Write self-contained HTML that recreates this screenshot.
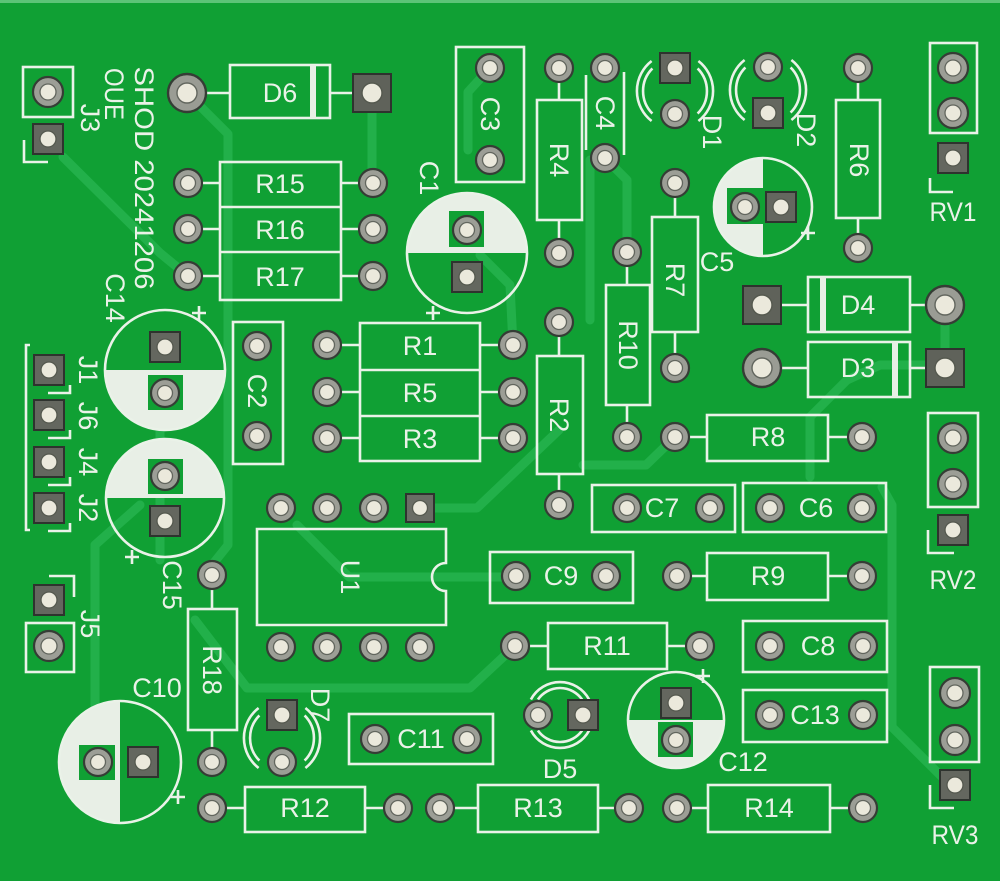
<!DOCTYPE html>
<html><head><meta charset="utf-8"><style>
html,body{margin:0;padding:0;background:#10a034;}
svg{display:block}
.s{fill:none;stroke:#eaf2e8;stroke-width:2.6}
.t{fill:#eaf2e8;font-family:"Liberation Sans",sans-serif;font-size:27px;text-anchor:middle;dominant-baseline:central}
.w{fill:#e8efe6}
.g{fill:#10a034}
.tr{fill:none;stroke:#22b04a;stroke-width:9;stroke-linejoin:round;stroke-linecap:round}
</style></head><body>
<svg width="1000" height="881" viewBox="0 0 1000 881" xmlns="http://www.w3.org/2000/svg">
<defs>
<g id="rp"><circle r="14" fill="#9c9e96" stroke="#353d35" stroke-width="2.2"/><circle r="7.5" fill="#ebe9dc" stroke="#62665e" stroke-width="1.3"/></g>
<g id="rpl"><circle r="15" fill="#9c9e96" stroke="#353d35" stroke-width="2.2"/><circle r="8" fill="#ebe9dc" stroke="#62665e" stroke-width="1.3"/></g>
<g id="rpb"><circle r="19" fill="#9a9c94" stroke="#353d35" stroke-width="2.4"/><circle r="10" fill="#ebe9dc" stroke="#62665e" stroke-width="1.4"/></g>
<g id="sp"><rect x="-15" y="-15" width="30" height="30" fill="#64675f" stroke="#2e332e" stroke-width="2"/><circle r="8" fill="#ebe9dc" stroke="#55594f" stroke-width="1.3"/></g>
<g id="sps"><rect x="-14" y="-14" width="28" height="28" fill="#6a6d65" stroke="#2e332e" stroke-width="2"/><circle r="7.5" fill="#ebe9dc" stroke="#55594f" stroke-width="1.3"/></g>
<g id="spb"><rect x="-19" y="-19" width="38" height="38" fill="#5f625a" stroke="#2e332e" stroke-width="2"/><circle r="10" fill="#ebe9dc" stroke="#55594f" stroke-width="1.4"/></g>
</defs>
<rect x="0" y="0" width="1000" height="881" fill="#10a034"/>
<rect x="0" y="0" width="1000" height="3" fill="#5cc477"/>

<!-- traces -->
<g class="tr">
<path d="M63 157 L160 253 L188 276"/>
<path d="M187 93 L228 134 L228 545 L212 565"/>
<path d="M372 93 L372 183"/>
<path d="M95 545 L95 705"/>
<path d="M95 545 L140 505"/>
<path d="M160 410 L160 560"/>
<path d="M195 620 L247 688 L470 688 L515 646"/>
<path d="M297 525 L349 577 L516 577"/>
<path d="M420 508 L477 508 L559 430"/>
<path d="M590 160 L590 320"/>
<path d="M605 158 L627 180 L627 252"/>
<path d="M490 68 L468 92 L468 150"/>
<path d="M480 255 L510 285 L513 345"/>
<path d="M810 417 L810 477"/>
<path d="M810 417 L847 380 L880 365 L945 365"/>
<path d="M882 487 L892 505 L892 727 L945 780"/>
<path d="M945 305 L945 368"/>
<path d="M583 465 L646 465 L675 437"/>
</g>

<!-- capacitor fills -->
<path class="w" d="M105 370 A60 60 0 0 0 225 370 Z"/>
<rect class="g" x="148" y="375" width="35" height="35"/>
<path class="w" d="M106 498 A59 59 0 0 1 224 498 Z"/>
<rect class="g" x="148" y="459" width="35" height="35"/>
<path class="w" d="M120 701 A61 61 0 0 0 120 823 Z"/>
<rect class="g" x="79" y="745" width="36" height="35"/>
<path class="w" d="M628 720 A48 48 0 0 0 724 720 Z"/>
<rect class="g" x="658" y="722" width="35" height="35"/>
<path class="w" d="M763 158 A49 49 0 0 0 763 256 Z"/>
<rect class="g" x="727" y="188" width="36" height="36"/>
<path class="w" d="M407 253 A60 60 0 0 1 527 253 Z"/>
<rect class="g" x="449" y="211" width="35" height="36"/>

<!-- silkscreen -->
<g class="s">
<rect x="23" y="67" width="50" height="50"/><path d="M24 140 V162 H48"/>
<path d="M30 345 H26 V530 H30"/>
<path d="M70 385 V393 H48 M70 430 V438 H48 M70 477 V485 H48 M70 523 V531 H48"/>
<rect x="26" y="623" width="48" height="49"/><path d="M49 576 H74 V597"/>
<rect x="230" y="65" width="100" height="53"/><path d="M206 93 H230 M330 93 H353"/>
<rect x="220" y="162" width="121" height="138"/><path d="M220 207 H341 M220 252 H341"/>
<path d="M202 183 H220 M341 183 H359 M202 229 H220 M341 229 H359 M202 276 H220 M341 276 H359"/>
<circle cx="165" cy="370" r="60"/><path d="M199 306 V320 M192 313 H206"/>
<circle cx="165" cy="498" r="59"/><path d="M132 550 V564 M125 557 H139"/>
<rect x="233" y="322" width="50" height="142"/>
<rect x="360" y="323" width="120" height="138"/><path d="M360 370 H480 M360 416 H480"/>
<path d="M341 345 H360 M480 345 H499 M341 392 H360 M480 392 H499 M341 438 H360 M480 438 H499"/>
<path d="M257 529 H446 V563 A14 14 0 0 0 446 591 V625 H257 Z"/>
<rect x="188" y="609" width="49" height="121"/><path d="M212 590 V609 M212 730 V748"/>
<circle cx="120" cy="762" r="61"/><path d="M178 790 V804 M171 797 H185"/>
<path d="M258.6 708 A38 38 0 0 0 258.6 768 M259.4 715.4 A32 32 0 0 0 259.4 760.6 M305.4 708 A38 38 0 0 1 305.4 768 M304.6 715.4 A32 32 0 0 1 304.6 760.6"/>
<rect x="349" y="714" width="144" height="50"/>
<rect x="245" y="787" width="120" height="45"/><path d="M226 808 H245 M365 808 H384"/>
<rect x="478" y="785" width="120" height="47"/><path d="M454 808 H478 M598 808 H615"/>
<rect x="708" y="785" width="122" height="47"/><path d="M691 808 H708 M830 808 H849"/>
<rect x="548" y="623" width="119" height="46"/><path d="M529 646 H548 M667 646 H686"/>
<path d="M530.9 699.5 A33 33 0 0 1 589.1 699.5 M537.9 699.5 A27 27 0 0 1 582.1 699.5 M530.9 730.5 A33 33 0 0 0 589.1 730.5 M537.9 730.5 A27 27 0 0 0 582.1 730.5"/>
<circle cx="676" cy="720" r="48"/><path d="M703 669 V683 M696 676 H710"/>
<rect x="743" y="621" width="144" height="51"/>
<rect x="743" y="690" width="144" height="52"/>
<rect x="930" y="667" width="49" height="95"/><path d="M930 785 V808 H954"/>
<rect x="490" y="552" width="143" height="51"/>
<rect x="707" y="553" width="121" height="47"/><path d="M691 576 H707 M828 576 H848"/>
<rect x="928" y="413" width="50" height="94"/><path d="M928 530 V553 H954"/>
<rect x="592" y="485" width="143" height="47"/>
<rect x="743" y="483" width="143" height="49"/>
<rect x="537" y="356" width="46" height="118"/><path d="M559 336 V356 M559 474 V491"/>
<rect x="707" y="415" width="121" height="46"/><path d="M689 437 H707 M828 437 H848"/>
<rect x="606" y="285" width="44" height="120"/><path d="M627 266 V285 M627 405 V423"/>
<rect x="808" y="277" width="102" height="55"/><path d="M781 305 H808 M910 305 H926"/>
<rect x="808" y="342" width="102" height="55"/><path d="M781 368 H808 M910 368 H926"/>
<rect x="652" y="217" width="46" height="115"/><path d="M675 197 V217 M675 332 V354"/>
<circle cx="763" cy="207" r="49"/><path d="M808 226 V240 M801 233 H815"/>
<circle cx="467" cy="253" r="60"/><path d="M433 306 V320 M426 313 H440"/>
<rect x="456" y="47" width="68" height="135"/>
<rect x="537" y="100" width="45" height="120"/><path d="M559 82 V100 M559 220 V239"/>
<path d="M586 75 V150 M624 72 V155"/>
<path d="M651.6 61 A38 38 0 0 0 651.6 121 M652.4 68.4 A32 32 0 0 0 652.4 113.6 M698.4 61 A38 38 0 0 1 698.4 121 M697.6 68.4 A32 32 0 0 1 697.6 113.6"/>
<path d="M744.6 60 A38 38 0 0 0 744.6 120 M745.4 67.4 A32 32 0 0 0 745.4 112.6 M791.4 60 A38 38 0 0 1 791.4 120 M790.6 67.4 A32 32 0 0 1 790.6 112.6"/>
<rect x="836" y="100" width="44" height="118"/><path d="M858 82 V100 M858 218 V234"/>
<rect x="930" y="43" width="47" height="90"/><path d="M930 178 V192 H953"/>
</g>
<rect class="w" x="310" y="65" width="6" height="53"/>
<rect class="w" x="820" y="277" width="6" height="55"/>
<rect class="w" x="892" y="342" width="6" height="55"/>

<!-- pads -->
<use href="#rpl" x="48" y="92"/><use href="#rpl" x="49" y="646"/>
<use href="#rpl" x="953" y="68"/><use href="#rpl" x="953" y="113"/>
<use href="#rpl" x="953" y="438"/><use href="#rpl" x="953" y="484"/>
<use href="#rpl" x="955" y="693"/><use href="#rpl" x="955" y="740"/>
<use href="#sp" x="48" y="139"/>
<use href="#sp" x="49" y="370"/><use href="#sp" x="49" y="415"/><use href="#sp" x="49" y="462"/><use href="#sp" x="49" y="508"/>
<use href="#sp" x="49" y="600"/>
<use href="#sp" x="953" y="158"/><use href="#sp" x="953" y="530"/><use href="#sp" x="955" y="785"/>
<use href="#sp" x="675" y="68"/><use href="#sp" x="768" y="113"/><use href="#sp" x="282" y="715"/><use href="#sp" x="583" y="715"/>
<use href="#sp" x="165" y="347"/><use href="#sp" x="165" y="521"/><use href="#sp" x="143" y="762"/>
<use href="#sp" x="676" y="703"/><use href="#sp" x="781" y="207"/><use href="#sp" x="467" y="277"/>
<use href="#sps" x="420" y="508"/>
<use href="#rpb" x="187" y="93"/><use href="#rpb" x="945" y="305"/><use href="#rpb" x="762" y="368"/>
<use href="#spb" x="372" y="93"/><use href="#spb" x="762" y="305"/><use href="#spb" x="945" y="368"/>
<use href="#rp" x="188" y="183"/><use href="#rp" x="373" y="183"/>
<use href="#rp" x="188" y="229"/><use href="#rp" x="373" y="229"/>
<use href="#rp" x="188" y="276"/><use href="#rp" x="373" y="276"/>
<use href="#rp" x="165" y="393"/><use href="#rp" x="165" y="476"/>
<use href="#rp" x="257" y="346"/><use href="#rp" x="257" y="436"/>
<use href="#rp" x="327" y="345"/><use href="#rp" x="513" y="345"/>
<use href="#rp" x="327" y="392"/><use href="#rp" x="513" y="392"/>
<use href="#rp" x="327" y="438"/><use href="#rp" x="513" y="438"/>
<use href="#rp" x="281" y="508"/><use href="#rp" x="327" y="508"/><use href="#rp" x="374" y="508"/>
<use href="#rp" x="281" y="647"/><use href="#rp" x="327" y="647"/><use href="#rp" x="374" y="647"/><use href="#rp" x="420" y="647"/>
<use href="#rp" x="212" y="575"/><use href="#rp" x="212" y="762"/>
<use href="#rp" x="98" y="762"/><use href="#rp" x="282" y="762"/>
<use href="#rp" x="375" y="739"/><use href="#rp" x="467" y="739"/>
<use href="#rp" x="212" y="808"/><use href="#rp" x="398" y="808"/>
<use href="#rp" x="440" y="808"/><use href="#rp" x="629" y="808"/>
<use href="#rp" x="677" y="808"/><use href="#rp" x="863" y="808"/>
<use href="#rp" x="515" y="646"/><use href="#rp" x="700" y="646"/>
<use href="#rp" x="538" y="715"/><use href="#rp" x="676" y="740"/>
<use href="#rp" x="770" y="646"/><use href="#rp" x="863" y="646"/>
<use href="#rp" x="770" y="715"/><use href="#rp" x="863" y="715"/>
<use href="#rp" x="516" y="576"/><use href="#rp" x="606" y="576"/>
<use href="#rp" x="677" y="576"/><use href="#rp" x="862" y="576"/>
<use href="#rp" x="627" y="508"/><use href="#rp" x="710" y="508"/>
<use href="#rp" x="770" y="508"/><use href="#rp" x="862" y="508"/>
<use href="#rp" x="559" y="322"/><use href="#rp" x="559" y="505"/>
<use href="#rp" x="675" y="437"/><use href="#rp" x="862" y="437"/>
<use href="#rp" x="627" y="252"/><use href="#rp" x="627" y="437"/>
<use href="#rp" x="675" y="183"/><use href="#rp" x="675" y="368"/>
<use href="#rp" x="745" y="207"/><use href="#rp" x="467" y="230"/>
<use href="#rp" x="490" y="68"/><use href="#rp" x="490" y="160"/>
<use href="#rp" x="559" y="68"/><use href="#rp" x="559" y="253"/>
<use href="#rp" x="605" y="68"/><use href="#rp" x="605" y="158"/>
<use href="#rp" x="675" y="114"/><use href="#rp" x="768" y="67"/>
<use href="#rp" x="858" y="68"/><use href="#rp" x="858" y="248"/>

<!-- labels -->
<text class="t" x="90" y="118" transform="rotate(90 90 118)">J3</text>
<text class="t" x="114" y="94" textLength="52" lengthAdjust="spacingAndGlyphs" transform="rotate(90 114 94)">OUE</text>
<text class="t" x="144" y="178" textLength="223" lengthAdjust="spacingAndGlyphs" transform="rotate(90 144 178)">SHOD 20241206</text>
<text class="t" x="280" y="93">D6</text>
<text class="t" x="280" y="184">R15</text>
<text class="t" x="280" y="230">R16</text>
<text class="t" x="280" y="277">R17</text>
<text class="t" x="115" y="298" transform="rotate(90 115 298)">C14</text>
<text class="t" x="88" y="370" transform="rotate(90 88 370)">J1</text>
<text class="t" x="88" y="416" transform="rotate(90 88 416)">J6</text>
<text class="t" x="88" y="462" transform="rotate(90 88 462)">J4</text>
<text class="t" x="88" y="508" transform="rotate(90 88 508)">J2</text>
<text class="t" x="257" y="391" transform="rotate(90 257 391)">C2</text>
<text class="t" x="420" y="346">R1</text>
<text class="t" x="420" y="393">R5</text>
<text class="t" x="420" y="439">R3</text>
<text class="t" x="350" y="577" transform="rotate(90 350 577)">U1</text>
<text class="t" x="172" y="585" transform="rotate(90 172 585)">C15</text>
<text class="t" x="90" y="624" transform="rotate(90 90 624)">J5</text>
<text class="t" x="157" y="688">C10</text>
<text class="t" x="212" y="670" transform="rotate(90 212 670)">R18</text>
<text class="t" x="320" y="705" transform="rotate(90 320 705)">D7</text>
<text class="t" x="421" y="739">C11</text>
<text class="t" x="305" y="808">R12</text>
<text class="t" x="538" y="808">R13</text>
<text class="t" x="769" y="808">R14</text>
<text class="t" x="607" y="646">R11</text>
<text class="t" x="560" y="769">D5</text>
<text class="t" x="743" y="762">C12</text>
<text class="t" x="818" y="646">C8</text>
<text class="t" x="815" y="715">C13</text>
<text class="t" x="955" y="835" textLength="47" lengthAdjust="spacingAndGlyphs">RV3</text>
<text class="t" x="561" y="576">C9</text>
<text class="t" x="768" y="576">R9</text>
<text class="t" x="953" y="580" textLength="47" lengthAdjust="spacingAndGlyphs">RV2</text>
<text class="t" x="662" y="508">C7</text>
<text class="t" x="816" y="508">C6</text>
<text class="t" x="559" y="415" transform="rotate(90 559 415)">R2</text>
<text class="t" x="768" y="437">R8</text>
<text class="t" x="628" y="345" transform="rotate(90 628 345)">R10</text>
<text class="t" x="858" y="305">D4</text>
<text class="t" x="858" y="368">D3</text>
<text class="t" x="675" y="280" transform="rotate(90 675 280)">R7</text>
<text class="t" x="717" y="262">C5</text>
<text class="t" x="429" y="178" transform="rotate(90 429 178)">C1</text>
<text class="t" x="490" y="114" transform="rotate(90 490 114)">C3</text>
<text class="t" x="559" y="160" transform="rotate(90 559 160)">R4</text>
<text class="t" x="605" y="113" transform="rotate(90 605 113)">C4</text>
<text class="t" x="712" y="132" transform="rotate(90 712 132)">D1</text>
<text class="t" x="806" y="130" transform="rotate(90 806 130)">D2</text>
<text class="t" x="859" y="160" transform="rotate(90 859 160)">R6</text>
<text class="t" x="953" y="212" textLength="47" lengthAdjust="spacingAndGlyphs">RV1</text>
</svg>
</body></html>
